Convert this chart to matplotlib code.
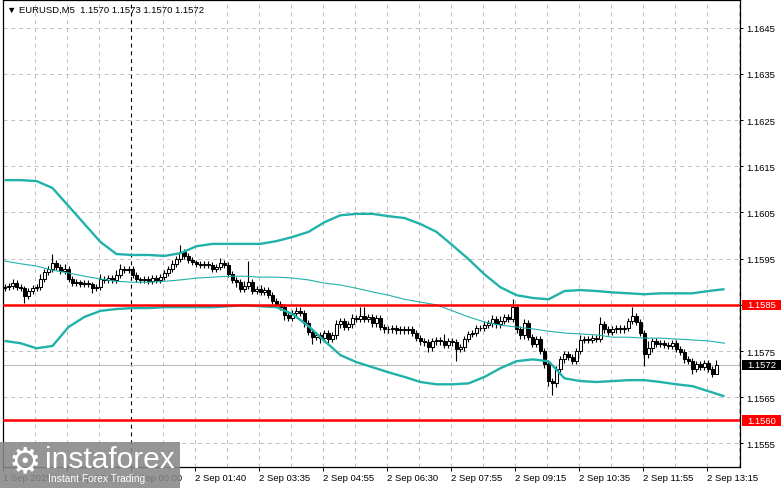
import matplotlib
matplotlib.use("Agg")
import matplotlib.pyplot as plt
from matplotlib.patches import Rectangle
import matplotlib.transforms as mtransforms

# ---------------- data ----------------
header = "\u25BC EURUSD,M5  1.1570 1.1573 1.1570 1.1572"
first_open = 1.15886
closes = [
    1.15889, 1.15891, 1.15897, 1.15889, 1.15886, 1.15869, 1.15880, 1.15886, 1.15889, 1.15906,
    1.15921, 1.15928, 1.15941, 1.15932, 1.15923, 1.15928, 1.15906, 1.15897, 1.15899, 1.15895,
    1.15897, 1.15895, 1.15886, 1.15889, 1.15906, 1.15904, 1.15908, 1.15904, 1.15915, 1.15928,
    1.15925, 1.15928, 1.15915, 1.15906, 1.15904, 1.15906, 1.15902, 1.15908, 1.15904, 1.15910,
    1.15919, 1.15928, 1.15938, 1.15949, 1.15965, 1.15956, 1.15947, 1.15943, 1.15938, 1.15936,
    1.15938, 1.15936, 1.15928, 1.15932, 1.15941, 1.15936, 1.15917, 1.15904, 1.15899, 1.15884,
    1.15891, 1.15899, 1.15880, 1.15884, 1.15878, 1.15882, 1.15871, 1.15858, 1.15852, 1.15845,
    1.15828, 1.15821, 1.15832, 1.15836, 1.15832, 1.15810, 1.15791, 1.15780, 1.15784, 1.15778,
    1.15789, 1.15776, 1.15784, 1.15808, 1.15815, 1.15802, 1.15808, 1.15821, 1.15819, 1.15826,
    1.15819, 1.15823, 1.15810, 1.15821, 1.15802, 1.15797, 1.15797, 1.15800, 1.15795, 1.15797,
    1.15795, 1.15797, 1.15789, 1.15778, 1.15771, 1.15769, 1.15758, 1.15771, 1.15774, 1.15771,
    1.15763, 1.15771, 1.15769, 1.15754, 1.15758, 1.15776, 1.15787, 1.15789, 1.15800, 1.15800,
    1.15806, 1.15810, 1.15819, 1.15808, 1.15815, 1.15823, 1.15819, 1.15845, 1.15797, 1.15784,
    1.15810, 1.15780, 1.15765, 1.15776, 1.15750, 1.15721, 1.15685, 1.15680, 1.15711, 1.15732,
    1.15743, 1.15737, 1.15728, 1.15750, 1.15774, 1.15776, 1.15774, 1.15778, 1.15776, 1.15808,
    1.15797, 1.15791, 1.15797, 1.15800, 1.15797, 1.15800, 1.15815, 1.15826, 1.15813, 1.15789,
    1.15743, 1.15756, 1.15771, 1.15765, 1.15767, 1.15763, 1.15761, 1.15767, 1.15754, 1.15748,
    1.15732, 1.15728, 1.15711, 1.15721, 1.15715, 1.15724, 1.15711, 1.15700, 1.15720,
]
# wick extensions beyond the body, in points (0.00001)
wick_up_pts = [
    7, 7, 10, 7, 7, 5, 7, 7, 7, 10,
    7, 7, 20, 7, 7, 10, 7, 7, 7, 5,
    7, 7, 5, 7, 10, 7, 7, 7, 10, 10,
    7, 7, 7, 7, 5, 7, 7, 7, 7, 7,
    7, 7, 10, 7, 15, 7, 7, 7, 5, 7,
    7, 7, 7, 7, 10, 7, 7, 7, 7, 7,
    10, 45, 7, 7, 10, 7, 7, 7, 7, 7,
    7, 7, 7, 10, 10, 7, 7, 7, 7, 7,
    7, 7, 7, 10, 7, 7, 7, 10, 7, 20,
    20, 7, 7, 7, 7, 7, 7, 7, 7, 7,
    7, 7, 7, 7, 7, 7, 7, 7, 7, 7,
    15, 7, 7, 7, 7, 7, 7, 7, 7, 7,
    10, 7, 10, 7, 10, 7, 7, 17, 7, 7,
    10, 7, 7, 7, 7, 7, 7, 7, 7, 7,
    7, 7, 7, 7, 10, 7, 7, 7, 7, 15,
    7, 7, 7, 7, 7, 7, 7, 20, 7, 7,
    7, 15, 7, 7, 7, 7, 7, 7, 7, 7,
    7, 7, 7, 7, 7, 7, 7, 7, 10,
]
wick_dn_pts = [
    7, 7, 7, 7, 7, 15, 7, 7, 7, 7,
    7, 7, 7, 7, 7, 7, 7, 7, 7, 7,
    7, 7, 10, 7, 7, 7, 7, 7, 7, 7,
    7, 7, 7, 7, 7, 7, 7, 7, 7, 7,
    7, 7, 7, 7, 7, 7, 7, 7, 7, 7,
    7, 7, 7, 7, 7, 7, 7, 7, 10, 7,
    7, 7, 7, 7, 7, 7, 7, 7, 7, 7,
    10, 7, 7, 7, 7, 7, 7, 15, 7, 10,
    7, 10, 7, 7, 7, 7, 7, 7, 7, 7,
    7, 7, 7, 7, 7, 7, 7, 7, 7, 7,
    7, 7, 7, 7, 7, 7, 10, 7, 7, 7,
    7, 7, 7, 25, 7, 7, 7, 7, 7, 7,
    7, 7, 7, 7, 7, 7, 7, 7, 7, 7,
    7, 7, 7, 7, 7, 7, 10, 25, 7, 7,
    7, 7, 7, 7, 7, 7, 7, 7, 7, 7,
    7, 7, 7, 7, 7, 7, 7, 7, 7, 7,
    25, 7, 7, 7, 7, 7, 7, 7, 7, 7,
    7, 7, 10, 7, 7, 7, 7, 7, 0,
]

band_bars = list(range(0, 181, 4))
upper_band = [
    1.16120, 1.16120, 1.16118, 1.16103, 1.16064, 1.16025, 1.15986, 1.15960, 1.15958, 1.15958,
    1.15956, 1.15962, 1.15977, 1.15982, 1.15982, 1.15982, 1.15982, 1.15988, 1.15997, 1.16008,
    1.16029, 1.16044, 1.16047, 1.16047, 1.16042, 1.16038, 1.16025, 1.16008, 1.15979, 1.15949,
    1.15916, 1.15888, 1.15871, 1.15865, 1.15862, 1.15880, 1.15882, 1.15880, 1.15877, 1.15875,
    1.15873, 1.15875, 1.15875, 1.15875, 1.15880, 1.15884,
]
middle_band = [
    1.15945, 1.15939, 1.15934, 1.15925, 1.15919, 1.15912, 1.15906, 1.15901, 1.15899, 1.15899,
    1.15901, 1.15904, 1.15908, 1.15910, 1.15912, 1.15912, 1.15910, 1.15910, 1.15908, 1.15904,
    1.15897, 1.15893, 1.15886, 1.15878, 1.15871, 1.15862, 1.15856, 1.15850, 1.15837, 1.15824,
    1.15813, 1.15806, 1.15802, 1.15798, 1.15793, 1.15789, 1.15787, 1.15785, 1.15780, 1.15780,
    1.15778, 1.15778, 1.15776, 1.15774, 1.15772, 1.15767,
]
lower_band = [
    1.15772, 1.15767, 1.15756, 1.15761, 1.15802, 1.15824, 1.15837, 1.15841, 1.15843, 1.15843,
    1.15845, 1.15845, 1.15845, 1.15845, 1.15847, 1.15849, 1.15847, 1.15845, 1.15830, 1.15804,
    1.15772, 1.15741, 1.15726, 1.15715, 1.15704, 1.15694, 1.15683, 1.15678, 1.15678, 1.15680,
    1.15694, 1.15713, 1.15728, 1.15732, 1.15728, 1.15691, 1.15685, 1.15683, 1.15685, 1.15687,
    1.15687, 1.15683, 1.15678, 1.15674, 1.15663, 1.15652,
]

price_ticks = [1.1645, 1.1635, 1.1625, 1.1615, 1.1605, 1.1595, 1.1585, 1.1575, 1.1565, 1.1555]
time_labels = ["1 Sep 2025", "1 Sep 22:20", "2 Sep 00:00", "2 Sep 01:40", "2 Sep 03:35",
               "2 Sep 04:55", "2 Sep 06:30", "2 Sep 07:55", "2 Sep 09:15", "2 Sep 10:35",
               "2 Sep 11:55", "2 Sep 13:15"]
red_levels = [1.1585, 1.1560]
last_price = 1.1572

# ---------------- figure ----------------
W, H = 781, 489
fig = plt.figure(figsize=(W / 100, H / 100), dpi=100)
fig.patch.set_facecolor("white")
ax = fig.add_axes([3 / W, 21 / H, 737 / W, 467 / H])
ax.set_facecolor("white")

px_per_bar = 4.0
ax.set_xlim(-0.375, -0.375 + 737 / px_per_bar)
ax.set_ylim(1.15499, 1.16510)

FONT = ["Liberation Sans", "DejaVu Sans"]
grid_c = "#C0C0C0"
band_c = "#20B2AA"
fs = 6.8

# grid
for p in price_ticks:
    ax.axhline(p, color=grid_c, lw=0.7, ls=(0, (4, 4)), zorder=0.5)
n_grid = int(737 // 32) + 1
for k in range(1, n_grid):
    ax.axvline(8 * k - 0.375, color=grid_c, lw=0.7, ls=(0, (4, 4)), zorder=0.5)

# crosshair
ax.axvline(31.625, color="black", lw=0.8, ls=(0, (3.5, 3.5)), zorder=1)

# current price line
ax.axhline(last_price, color="#BEBEBE", lw=0.8, zorder=1)

# candles
opens = [first_open] + closes[:-1]
for i, (o, c) in enumerate(zip(opens, closes)):
    hi = max(o, c) + wick_up_pts[i] * 1e-5
    lo = min(o, c) - wick_dn_pts[i] * 1e-5
    ax.vlines(i, lo, hi, color="black", lw=0.8, zorder=2)
    bull = c >= o
    ax.bar(i, abs(c - o), bottom=min(o, c), width=0.68,
           color="white" if bull else "black", edgecolor="black",
           linewidth=0.75, zorder=2.5)

# Bollinger bands
ax.plot(band_bars, upper_band, color=band_c, lw=1.7, zorder=3, solid_capstyle="butt")
ax.plot(band_bars, lower_band, color=band_c, lw=1.7, zorder=3, solid_capstyle="butt")
ax.plot(band_bars, middle_band, color=band_c, lw=0.8, zorder=3)

# red horizontal levels
for lv in red_levels:
    ax.axhline(lv, color="#FF0000", lw=1.8, zorder=4)

# axes styling
for s in ax.spines.values():
    s.set_color("black")
    s.set_linewidth(0.9)
ax.yaxis.tick_right()
ax.set_yticks(price_ticks)
ax.set_yticklabels([f"{p:.4f}" for p in price_ticks], fontfamily=FONT)
ax.tick_params(axis="y", length=2.5, width=0.7, pad=2, labelsize=fs, colors="black")
xt = [16 * k - 0.375 for k in range(len(time_labels))]
ax.set_xticks(xt)
ax.set_xticklabels(time_labels, fontfamily=FONT)
ax.tick_params(axis="x", length=3, width=0.7, pad=1.5, labelsize=fs, colors="black")
for lbl in ax.get_xticklabels():
    lbl.set_horizontalalignment("left")

# right-side price boxes
ytrans = mtransforms.blended_transform_factory(ax.transAxes, ax.transData)
box_h = 10.5 / 46180
bx0 = (742 - 3) / 737
bw = (781 - 742) / 737
for lv, fc in [(red_levels[0], "#FF0000"), (red_levels[1], "#FF0000"), (last_price, "black")]:
    ax.add_patch(Rectangle((bx0, lv - box_h / 2), bw, box_h, transform=ytrans,
                           facecolor=fc, edgecolor="none", clip_on=False, zorder=10))
    ax.text((747 - 3) / 737, lv, f"{lv:.4f}", transform=ytrans, color="white",
            fontsize=fs, fontfamily=FONT, va="center", ha="left", clip_on=False, zorder=11)

# header
fig.text(7 / W, 1 - 10 / H, header, fontsize=fs, fontfamily=FONT,
         va="center", ha="left", color="black")

# watermark
fig.add_artist(Rectangle((0, 0), 180 / W, 46 / H, transform=fig.transFigure,
                         facecolor="#888888", edgecolor="none", alpha=0.88, zorder=20))
fig.text(25 / W, 1 - 462 / H, "\u2699", fontsize=26, fontfamily=["DejaVu Sans"],
         color="white", va="center", ha="center", zorder=21)
fig.text(45 / W, 1 - 460 / H, "instaforex", fontsize=21.5, fontfamily=FONT,
         color="white", va="center", ha="left", zorder=21)
fig.text(48 / W, 1 - 479 / H, "Instant Forex Trading", fontsize=7.4, fontfamily=FONT,
         color="white", va="center", ha="left", zorder=21)

fig.savefig("out.png", dpi=100)
